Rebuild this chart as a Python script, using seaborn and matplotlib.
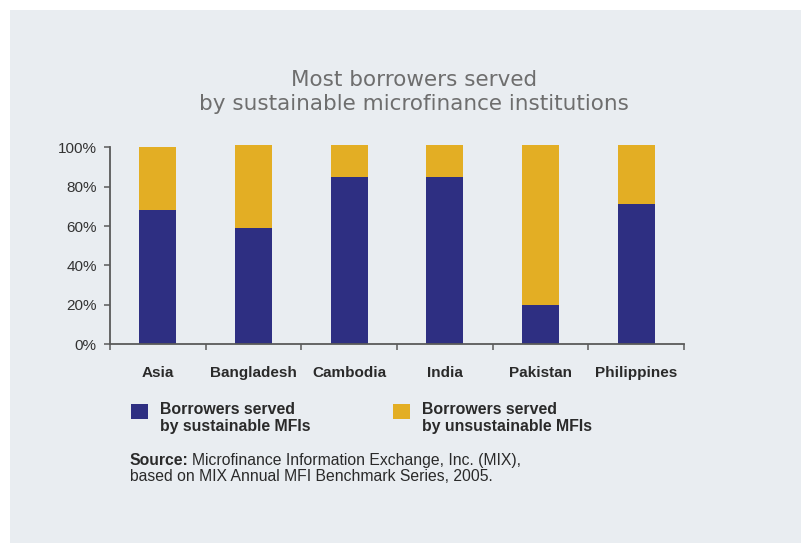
import matplotlib
matplotlib.use("Agg")
import matplotlib.pyplot as plt
from matplotlib.patches import Rectangle, Patch
from matplotlib.legend_handler import HandlerPatch
import seaborn as sns
import pandas as pd

# Share of borrowers (%) by institution sustainability
countries = ["Asia", "Bangladesh", "Cambodia", "India", "Pakistan", "Philippines"]
sustainable = [68, 59, 85, 85, 20, 71]
unsustainable = [32, 42, 16, 16, 81, 30]
y_ticks = [0, 20, 40, 60, 80, 100]
y_tick_labels = ["0%", "20%", "40%", "60%", "80%", "100%"]

title = "Most borrowers served\nby sustainable microfinance institutions"
legend_labels = ["Borrowers served\nby sustainable MFIs",
                 "Borrowers served\nby unsustainable MFIs"]

BLUE = "#2e2f82"
GOLD = "#e3ae24"
PANEL = "#e9edf1"
AXIS = "#5a5a5a"
INK = "#2a2a2a"

sns.set_style("ticks")
plt.rcParams["font.family"] = ["Liberation Sans", "DejaVu Sans"]

df = pd.DataFrame({
    "country": countries,
    "sustainable": sustainable,
    "total": [s + u for s, u in zip(sustainable, unsustainable)],
})

fig = plt.figure(figsize=(8.01, 5.43), dpi=100, facecolor="white")
fig.patches.append(Rectangle((10 / 801, 0), 1, 1 - 10 / 543,
                             transform=fig.transFigure, facecolor=PANEL,
                             edgecolor="none", zorder=-10))

ax = fig.add_axes([110 / 801, 1 - 344 / 543, 574 / 801, 0.3694])
ax.set_facecolor("none")

# Stacked bars: full height in gold, sustainable share in blue on top
sns.barplot(data=df, x="country", y="total", color=GOLD, width=0.39,
            linewidth=0, saturation=1, ax=ax)
sns.barplot(data=df, x="country", y="sustainable", color=BLUE, width=0.39,
            linewidth=0, saturation=1, ax=ax)

ax.set_xlim(-0.5, len(countries) - 0.5)
ax.set_ylim(0, 102)
ax.set_xlabel("")
ax.set_ylabel("")

for side in ("top", "right"):
    ax.spines[side].set_visible(False)
for side in ("left", "bottom"):
    ax.spines[side].set_color(AXIS)
    ax.spines[side].set_linewidth(1.3)
ax.spines["left"].set_bounds(0, 100)

ax.set_yticks(y_ticks)
ax.set_yticklabels(y_tick_labels)
ax.tick_params(axis="y", direction="out", length=4, width=1.1, color=AXIS,
               pad=5.5, labelsize=11, labelcolor="#333333")

# Category labels centred, tick marks at category boundaries
ax.set_xticks(range(len(countries)))
ax.set_xticklabels(countries, fontweight="bold")
ax.tick_params(axis="x", which="major", length=0, pad=15.5, labelsize=11,
               labelcolor=INK)
ax.set_xticks([i - 0.5 for i in range(len(countries) + 1)], minor=True)
ax.tick_params(axis="x", which="minor", direction="out", length=4,
               width=1.1, color=AXIS)

fig.text(414 / 801, 1 - 92 / 543, title, ha="center", va="center",
         fontsize=15.5, color="#6e6e6e", family="DejaVu Sans",
         linespacing=1.2)


def raised_square(legend, orig_handle, xdescent, ydescent, width, height,
                  fontsize):
    # legend swatch aligned with the first line of its two-line label
    return Rectangle((-xdescent, -ydescent + 5), width, height)


handles = [Patch(facecolor=BLUE, edgecolor="none"),
           Patch(facecolor=GOLD, edgecolor="none")]
fig.legend(handles, legend_labels, loc="upper left",
           bbox_to_anchor=(126 / 801, 1 - 397 / 543), ncol=2, frameon=False,
           prop={"weight": "bold", "size": 11.4}, labelcolor=INK,
           handlelength=1.1, handleheight=1.1, handletextpad=0.75,
           columnspacing=5.2, borderaxespad=0, borderpad=0.3,
           handler_map={Patch: HandlerPatch(patch_func=raised_square)})

# Source note: bold lead-in followed by regular text on the same baseline
src = fig.text(130 / 801, 1 - 465 / 543, "Source:", ha="left",
               va="baseline", fontsize=11.3, fontweight="bold", color=INK)
fig.canvas.draw()
bb = src.get_window_extent()
fig.text((bb.x1 + 3) / fig.bbox.width, 1 - 465 / 543,
         "Microfinance Information Exchange, Inc. (MIX),",
         ha="left", va="baseline", fontsize=11.3, color=INK)
fig.text(130 / 801, 1 - 481 / 543,
         "based on MIX Annual MFI Benchmark Series, 2005.",
         ha="left", va="baseline", fontsize=11.3, color=INK)

fig.savefig("out.png", dpi=100, facecolor="white")
